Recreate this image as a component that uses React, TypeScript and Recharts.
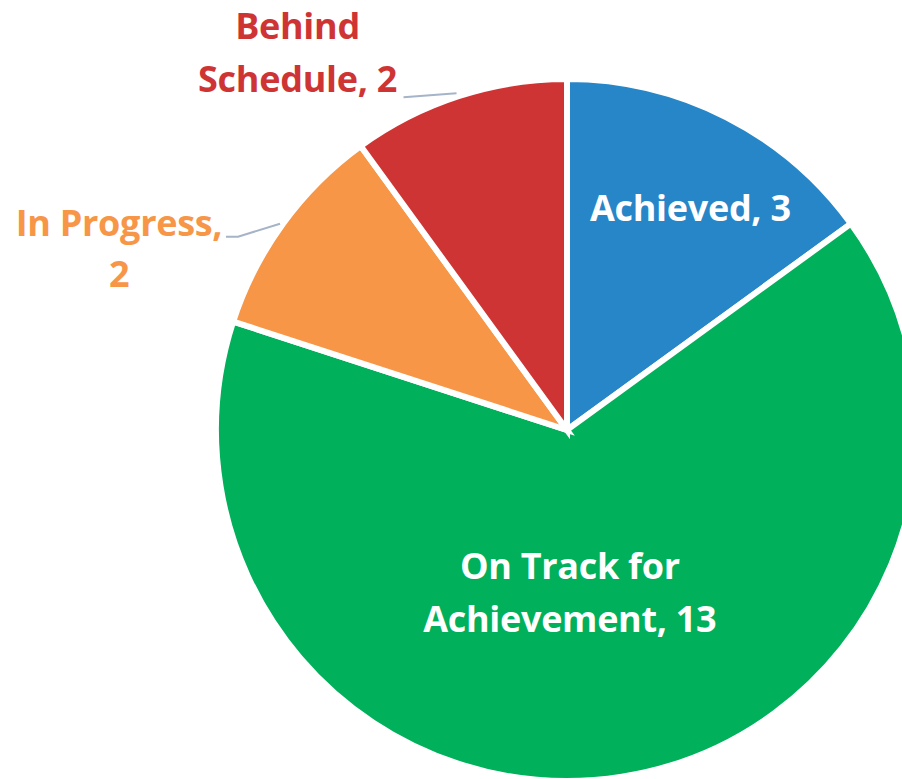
import React from "react";
import { PieChart, Pie, Cell } from "recharts";

const statuses = ["Achieved", "On Track for Achievement", "In Progress", "Behind Schedule"];
const counts = [3, 13, 2, 2];
const colors = ["#2686c8", "#00b05a", "#f79646", "#cf3434"];

const data = statuses.map((name, i) => ({ name, value: counts[i] }));

const RAD = Math.PI / 180;
const FONT = "'Open Sans', Lato, sans-serif";

function polar(cx: number, cy: number, r: number, angle: number) {
  return { x: cx + r * Math.cos(-angle * RAD), y: cy + r * Math.sin(-angle * RAD) };
}

function renderLabel(props: any) {
  const { cx, cy, midAngle, outerRadius, index } = props;
  const fs = 36;
  const txt = { fontFamily: FONT, fontWeight: 700, fontSize: fs, letterSpacing: -0.3 };

  if (index === 0) {
    const p = polar(cx, cy, outerRadius * 0.73, midAngle);
    return (
      <text x={p.x + 7} y={p.y + 6} fill="#fff" textAnchor="middle" dominantBaseline="central" style={txt}>
        Achieved, 3
      </text>
    );
  }
  if (index === 1) {
    const p = polar(cx, cy, outerRadius * 0.47, midAngle);
    return (
      <text fill="#fff" textAnchor="middle" style={txt}>
        <tspan x={p.x - 23} y={p.y - 14}>On Track for</tspan>
        <tspan x={p.x - 23} y={p.y + 39}>Achievement, 13</tspan>
      </text>
    );
  }
  const e = polar(cx, cy, outerRadius, midAngle);
  if (index === 2) {
    return (
      <g>
        <polyline
          points={`${e.x - 3},${e.y} ${e.x - 45},${e.y + 13} ${e.x - 57},${e.y + 13}`}
          fill="none"
          stroke="#a5b4c9"
          strokeWidth={2}
        />
        <text fill="#f79646" textAnchor="middle" style={txt}>
          <tspan x={e.x - 164} y={e.y + 12}>In Progress,</tspan>
          <tspan x={e.x - 164} y={e.y + 63}>2</tspan>
        </text>
      </g>
    );
  }
  return (
    <g>
      <polyline
        points={`${e.x - 2},${e.y - 3} ${e.x - 55},${e.y + 1}`}
        fill="none"
        stroke="#a5b4c9"
        strokeWidth={2}
      />
      <text fill="#cf3434" textAnchor="middle" style={txt}>
        <tspan x={e.x - 161} y={e.y - 57}>Behind</tspan>
        <tspan x={e.x - 161} y={e.y - 4}>Schedule, 2</tspan>
      </text>
    </g>
  );
}

export default function App() {
  return (
    <div style={{ position: "absolute", left: 0, top: 0, width: 902, height: 779, background: "#fff" }}>
      <PieChart width={902} height={779} margin={{ top: 0, right: 0, bottom: 0, left: 0 }}>
        <Pie
          data={data}
          dataKey="value"
          nameKey="name"
          cx={567}
          cy={430}
          outerRadius={351}
          startAngle={90}
          endAngle={-270}
          stroke="#fff"
          strokeWidth={6}
          label={renderLabel}
          labelLine={false}
          isAnimationActive={false}
        >
          {data.map((d, i) => (
            <Cell key={d.name} fill={colors[i]} />
          ))}
        </Pie>
      </PieChart>
    </div>
  );
}
